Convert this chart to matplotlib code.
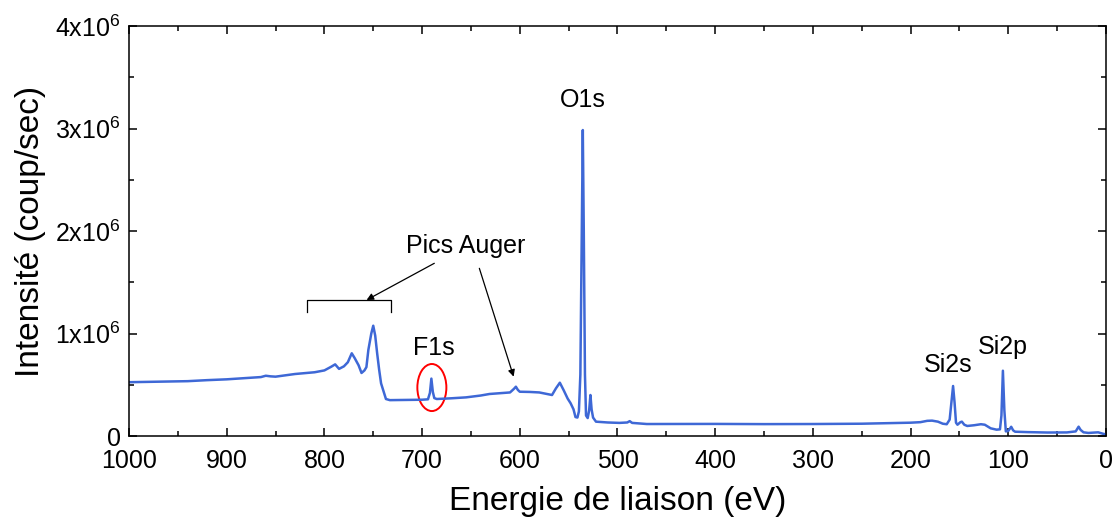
import matplotlib
matplotlib.use("Agg")
import matplotlib.pyplot as plt
from matplotlib.patches import Ellipse
from matplotlib.ticker import MultipleLocator, FixedLocator

plt.rcParams['font.family'] = ['Liberation Sans', 'DejaVu Sans']
plt.rcParams['mathtext.fontset'] = 'custom'
plt.rcParams['mathtext.rm'] = 'Liberation Sans'
plt.rcParams['mathtext.it'] = 'Liberation Sans:italic'

# Binding energy (eV) and intensity (10^6 counts/s)
energy = [1000, 980, 960, 940, 920, 900, 880, 865, 860, 855, 850, 830, 810, 800,
          793, 789, 785, 780, 776, 772, 769, 765, 762, 759, 757, 755, 752, 750,
          748, 746, 744, 742, 739, 737, 733, 725, 710, 700, 694, 692, 690.5, 689,
          687.5, 685, 670, 655, 640, 631, 620, 610, 606, 604, 602, 600, 590, 580,
          572, 567, 563, 559, 555, 551, 548, 545, 543, 541, 539.5, 538, 536.5,
          535.5, 534.5, 533.3, 532.2, 530.5, 529, 527.7, 526.5, 525, 522, 510,
          498, 490, 487.5, 485, 470, 400, 350, 300, 250, 230, 200, 190, 183, 178,
          172, 167, 163, 160, 158, 156.5, 155, 153.5, 152, 149, 147.5, 145, 142,
          135, 128, 124, 118, 112, 108.5, 107, 105.5, 104, 102.5, 100, 97, 95, 93,
          80, 60, 40, 31, 28, 26, 23, 18, 12, 8, 3, 0]
intensity = [0.525, 0.528, 0.530, 0.535, 0.545, 0.553, 0.565, 0.575, 0.588, 0.582,
             0.579, 0.605, 0.622, 0.640, 0.676, 0.699, 0.655, 0.680, 0.720, 0.807,
             0.760, 0.690, 0.615, 0.640, 0.672, 0.840, 1.000, 1.076, 0.980, 0.807,
             0.650, 0.514, 0.420, 0.361, 0.350, 0.351, 0.352, 0.354, 0.358, 0.420,
             0.560, 0.430, 0.370, 0.361, 0.368, 0.377, 0.395, 0.410, 0.418, 0.425,
             0.460, 0.481, 0.450, 0.432, 0.430, 0.425, 0.410, 0.400, 0.465, 0.520,
             0.445, 0.365, 0.320, 0.260, 0.185, 0.180, 0.240, 0.600, 2.000, 2.985,
             2.000, 0.600, 0.200, 0.175, 0.250, 0.400, 0.260, 0.180, 0.140, 0.132,
             0.128, 0.132, 0.145, 0.128, 0.117, 0.118, 0.116, 0.117, 0.120, 0.124,
             0.130, 0.135, 0.148, 0.150, 0.140, 0.120, 0.115, 0.160, 0.350, 0.488,
             0.330, 0.130, 0.110, 0.135, 0.140, 0.110, 0.098, 0.105, 0.115, 0.110,
             0.075, 0.062, 0.065, 0.200, 0.637, 0.250, 0.045, 0.050, 0.090, 0.055,
             0.042, 0.038, 0.034, 0.035, 0.045, 0.091, 0.060, 0.036, 0.030, 0.034,
             0.036, 0.022, 0.016]
intensity = [v * 1e6 for v in intensity]

y_ticks = [0, 1e6, 2e6, 3e6, 4e6]
y_tick_labels = ['0', r'$\mathregular{1x10^6}$', r'$\mathregular{2x10^6}$',
                 r'$\mathregular{3x10^6}$', r'$\mathregular{4x10^6}$']
x_ticks = [1000, 900, 800, 700, 600, 500, 400, 300, 200, 100, 0]

fig = plt.figure(figsize=(11.15, 5.19), dpi=100)
ax = fig.add_axes([0.1157, 0.1599, 0.8762, 0.79])

ax.plot(energy, intensity, color='#3E68D6', lw=1.8)

ax.set_xlim(1000, 0)
ax.set_ylim(0, 4e6)
ax.xaxis.set_major_locator(FixedLocator(x_ticks))
ax.xaxis.set_minor_locator(MultipleLocator(50))
ax.set_yticks(y_ticks)
ax.set_yticklabels(y_tick_labels)
ax.yaxis.set_minor_locator(MultipleLocator(0.5e6))
ax.tick_params(which='both', direction='in', top=True, right=True, width=1.1,
               labelsize=18)
ax.tick_params(axis='x', pad=9)
ax.tick_params(axis='y', pad=6)
ax.tick_params(which='major', length=6)
ax.tick_params(which='minor', length=3.5)
for s in ax.spines.values():
    s.set_linewidth(1.1)

ax.set_xlabel('Energie de liaison (eV)', fontsize=24, labelpad=10)
ax.set_ylabel('Intensité (coup/sec)', fontsize=24, labelpad=7)

ax.text(535, 3.28e6, 'O1s', fontsize=18, ha='center', va='center')
ax.text(687.5, 0.86e6, 'F1s', fontsize=18, ha='center', va='center')
ax.text(162, 0.69e6, 'Si2s', fontsize=18, ha='center', va='center')
ax.text(105.5, 0.87e6, 'Si2p', fontsize=18, ha='center', va='center')
ax.text(655, 1.85e6, 'Pics Auger', fontsize=18, ha='center', va='center')

ax.add_patch(Ellipse((690, 0.473e6), 29.7, 0.459e6, fill=False,
                     edgecolor='red', lw=1.4))

ax.plot([817.3, 817.3, 731.9, 731.9], [1.213e6, 1.327e6, 1.327e6, 1.213e6],
        color='black', lw=0.9)
ax.annotate('', xy=(756.8, 1.327e6), xytext=(687.5, 1.685e6),
            arrowprops=dict(arrowstyle='-|>', color='black', lw=0.9,
                            mutation_scale=10, shrinkA=0, shrinkB=0))
ax.annotate('', xy=(606.3, 0.579e6), xytext=(641.4, 1.636e6),
            arrowprops=dict(arrowstyle='-|>', color='black', lw=0.9,
                            mutation_scale=10, shrinkA=0, shrinkB=0))

fig.savefig('out.png', dpi=100)
